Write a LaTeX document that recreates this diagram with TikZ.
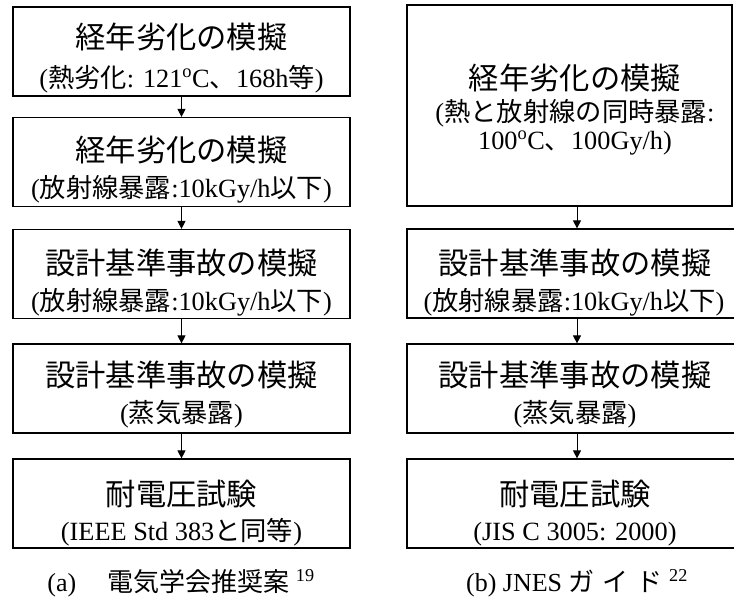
\documentclass[tikz,border=0pt]{standalone}
\usepackage{fontspec}
\setmainfont{Liberation Serif}
\newfontfamily\cjk{Noto Sans CJK JP}
\usetikzlibrary{arrows.meta}
\newcommand{\J}[1]{{\cjk #1}}
\begin{document}
\begin{tikzpicture}[x=1pt,y=-1pt,
  box/.style={draw, line width=1.2pt, inner sep=0pt, minimum width=337pt, minimum height=89pt},
  rbox/.style={draw, line width=1.2pt, inner sep=0pt, minimum width=340pt, minimum height=89pt},
  mainline/.style={font=\fontsize{30.3}{36}\selectfont\cjk, inner sep=0pt, anchor=base},
  subline/.style={font=\fontsize{26.3}{32}\selectfont, inner sep=0pt, anchor=base},
  capline/.style={font=\fontsize{26}{30}\selectfont, inner sep=0pt, anchor=base},
  flow/.style={-{Triangle[length=8pt,width=8pt]}, line width=1pt},
]
\clip (0,0) rectangle (734,603);
% left column boxes
\node[box] (a1) at (181.5,51.5) {};
\node[box] (a2) at (181.5,162) {};
\node[box] (a3) at (181.5,274) {};
\node[box] (a4) at (181.5,388.5) {};
\node[box] (a5) at (181.5,503.5) {};
% right column boxes
\node[draw, line width=1.2pt, inner sep=0pt, minimum width=325pt, minimum height=201pt] (b1) at (569.5,105.5) {};
\node[rbox] (b2) at (577,273.5) {};
\node[rbox] (b3) at (577,388.5) {};
\node[rbox] (b4) at (577,503.5) {};
% left texts
\node[mainline] (a1m) at (181.5,48) {経年劣化の模擬};
\node[subline] (a1s) at (181.5,87) {(\J{熱劣化}: 121\textsuperscript{o}C\J{、}168h\J{等})};
\node[mainline] (a2m) at (181.5,161) {経年劣化の模擬};
\node[subline] (a2s) at (181.5,197) {(\J{放射線暴露}:10kGy/h\J{以下})};
\node[mainline] (a3m) at (181.5,274) {設計基準事故の模擬};
\node[subline] (a3s) at (181.5,310) {(\J{放射線暴露}:10kGy/h\J{以下})};
\node[mainline] (a4m) at (181.5,386) {設計基準事故の模擬};
\node[subline] (a4s) at (181.5,422) {(\J{蒸気暴露})};
\node[mainline] (a5m) at (181.5,505) {耐電圧試験};
\node[subline] (a5s) at (181.5,540) {(IEEE Std 383\J{と同等})};
% right texts
\node[mainline] (b1m) at (575,89) {経年劣化の模擬};
\node[subline] (b1s) at (575,121) {(\J{熱と放射線の同時暴露}:};
\node[subline] (b1t) at (575,149) {100\textsuperscript{o}C\J{、}100Gy/h)};
\node[mainline] (b2m) at (575,274) {設計基準事故の模擬};
\node[subline] (b2s) at (574,310) {(\J{放射線暴露}:10kGy/h\J{以下})};
\node[mainline] (b3m) at (575,386) {設計基準事故の模擬};
\node[subline] (b3s) at (575,422) {(\J{蒸気暴露})};
\node[mainline] (b4m) at (575,505) {耐電圧試験};
\node[subline] (b4s) at (575,540) {(JIS C 3005: 2000)};
% captions
\node[capline] (capa) at (181,591) {(a)\hspace{1.2em}\J{電気学会推奨案}\hspace{0.25em}\textsuperscript{19}};
\node[capline] (capb) at (577,591) {(b) JNES \J{ガ\hspace{8pt}イ\hspace{8pt}ド}\hspace{0.25em}\textsuperscript{22}};
% arrows
\draw[flow] (a1.south) -- (a2.north);
\draw[flow] (a2.south) -- (a3.north);
\draw[flow] (a3.south) -- (a4.north);
\draw[flow] (a4.south) -- (a5.north);
\draw[flow] (b1.south -| b2.north) -- (b2.north);
\draw[flow] (b2.south) -- (b3.north);
\draw[flow] (b3.south) -- (b4.north);
\end{tikzpicture}
\end{document}
